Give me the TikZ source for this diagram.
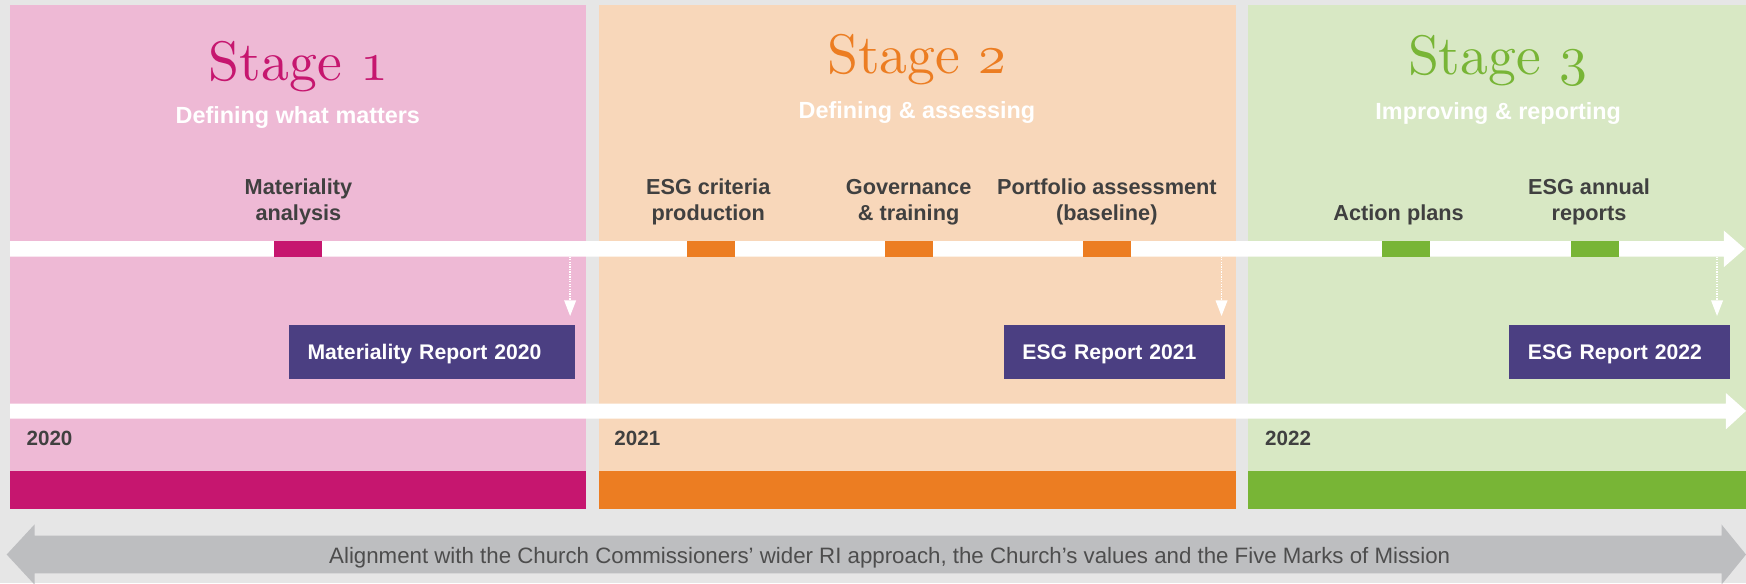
\documentclass[tikz,border=0pt]{standalone}
\usepackage{fontspec}
\setsansfont{Liberation Sans}
\newfontfamily\stagefont{lmroman10-regular}[Extension=.otf]
\usepackage{tikz}
\usetikzlibrary{arrows.meta}
\definecolor{bggray}{HTML}{E6E6E6}
\definecolor{pinkbg}{HTML}{EEB9D5}
\definecolor{pinkbar}{HTML}{C6166F}
\definecolor{orangebg}{HTML}{F8D7BA}
\definecolor{orangebar}{HTML}{EC7D22}
\definecolor{greenbg}{HTML}{D8E8C4}
\definecolor{greenbar}{HTML}{78B536}
\definecolor{repblue}{HTML}{4B3F82}
\definecolor{labelgray}{HTML}{404040}
\definecolor{bandgray}{HTML}{BDBEC0}
\definecolor{bandtext}{HTML}{4D4D4D}
\DeclareFontFamily{OML}{stagecmm}{\skewchar\font'177}
\DeclareFontShape{OML}{stagecmm}{m}{it}{<->cmmi10}{}
\newcommand{\stagenum}[1]{{\usefont{OML}{stagecmm}{m}{it}#1}}

\begin{document}
\begin{tikzpicture}[x=1pt,y=1pt]
\tikzstyle{stage}=[font=\stagefont\fontsize{50}{56}\selectfont,anchor=base,inner sep=0]
\tikzstyle{subtitle}=[font=\sffamily\bfseries\fontsize{21}{25}\selectfont,text=white,anchor=base,inner sep=0]
\tikzstyle{task}=[font=\sffamily\bfseries\fontsize{19.5}{23}\selectfont,text=labelgray,align=center,anchor=south,inner sep=0]
\tikzstyle{year}=[font=\sffamily\bfseries\fontsize{18.5}{22}\selectfont,text=labelgray,anchor=base west,inner sep=0]
\tikzstyle{report}=[fill=repblue,text=white,font=\sffamily\bfseries\fontsize{19}{23}\selectfont,minimum height=48,inner xsep=17,inner ysep=0,text height=13.5pt,text depth=0pt,anchor=west,align=left]
\tikzstyle{drop}=[white,densely dotted,line width=1.2,-{Triangle[width=10.5pt,length=14pt]},shorten >=8pt]
\useasboundingbox (0,0) rectangle (1568,524);
\fill[bggray] (0,0) rectangle (1568,524);

\fill[pinkbg] (9,101) rectangle (526,519.5);
\fill[pinkbar] (9,67) rectangle (526,101);
\fill[orangebg] (538,101) rectangle (1110,519.5);
\fill[orangebar] (538,67) rectangle (1110,101);
\fill[greenbg] (1121,101) rectangle (1568,519.5);
\fill[greenbar] (1121,67) rectangle (1568,101);

\node[stage,text=pinkbar] (st1) at (268,452) {Stage \stagenum{1}};
\node[stage,text=orangebar] (st2) at (823.5,458) {Stage \stagenum{2}};
\node[stage,text=greenbar] (st3) at (1345,457) {Stage \stagenum{3}};
\node[subtitle] (sub1) at (267.5,413) {Defining what matters};
\node[subtitle] (sub2) at (823.5,418) {Defining \& assessing};
\node[subtitle] (sub3) at (1345.5,417) {Improving \& reporting};

\fill[white] (9,293.5) -- (1548,293.5) -- (1548,284) -- (1567,300.5) -- (1548,317) -- (1548,307.5) -- (9,307.5) -- cycle;
\fill[pinkbar] (246,293.5) rectangle (289,307.5);
\fill[orangebar] (617,293.5) rectangle (660,307.5);
\fill[orangebar] (795,293.5) rectangle (838,307.5);
\fill[orangebar] (972.5,293.5) rectangle (1015.5,307.5);
\fill[greenbar] (1241,293.5) rectangle (1284,307.5);
\fill[greenbar] (1410.5,293.5) rectangle (1453.5,307.5);

\node[task] (mat) at (268,322) {Materiality\\analysis};
\node[task] (crit) at (636,322) {ESG criteria\\production};
\node[task] (gov) at (816,322) {Governance\\\& training};
\node[task] (port) at (994,322) {Portfolio assessment\\(baseline)};
\node[task] (act) at (1256,322) {Action plans};
\node[task] (ann) at (1427,322) {ESG annual\\reports};

\node[report,text width=223] (rep1) at (259,208) {Materiality Report 2020};
\node[report,text width=165] (rep2) at (901,208) {ESG Report 2021};
\node[report,text width=164] (rep3) at (1355,208) {ESG Report 2022};
\coordinate (d1) at (512,293.5);
\coordinate (d2) at (1097,293.5);
\coordinate (d3) at (1542,293.5);
\draw[drop] (d1) -- (d1 |- rep1.north);
\draw[drop] (d2) -- (d2 |- rep2.north);
\draw[drop] (d3) -- (d3 |- rep3.north);

\fill[white] (9,148) -- (1550,148) -- (1550,138.5) -- (1568,155) -- (1550,171) -- (1550,161.5) -- (9,161.5) -- cycle;
\node[year] (y1) at (23.7,123.5) {2020};
\node[year] (y2) at (551.6,123.5) {2021};
\node[year] (y3) at (1136,123.5) {2022};

\fill[bandgray] (6,26) -- (31,53) -- (31,43) -- (1546,43) -- (1546,53) -- (1568,26) -- (1546,-1) -- (1546,9) -- (31,9) -- (31,-1) -- cycle;
\node[font=\sffamily\fontsize{20}{24}\selectfont,text=bandtext,anchor=base,inner sep=0] (mission) at (799,17.5) {Alignment with the Church Commissioners’ wider RI approach, the Church’s values and the Five Marks of Mission};
\end{tikzpicture}
\end{document}
